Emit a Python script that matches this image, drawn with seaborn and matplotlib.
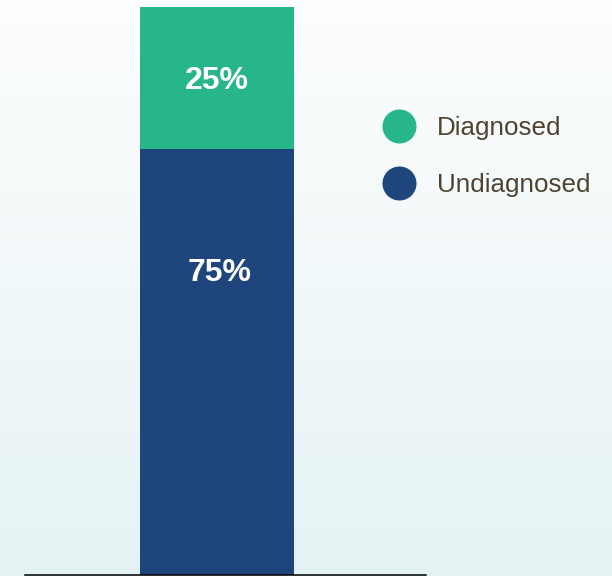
import numpy as np
import pandas as pd
import matplotlib
matplotlib.use("Agg")
import matplotlib.pyplot as plt
from matplotlib.lines import Line2D
from matplotlib.colors import LinearSegmentedColormap
import seaborn as sns

# Share of cases by diagnosis status (percent)
groups = ["Diagnosed", "Undiagnosed"]
shares = [25, 75]
labels = ["25%", "75%"]
colors = ["#27B68A", "#1F467C"]
text_color = "#4F4330"

sns.set_theme(style="white")
plt.rcParams["font.family"] = ["Liberation Sans", "DejaVu Sans"]

fig = plt.figure(figsize=(6.12, 5.76), dpi=100)

# Soft vertical background gradient
bg = fig.add_axes([0, 0, 1, 1], zorder=0)
grad = np.linspace(0, 1, 256).reshape(-1, 1)
cmap = LinearSegmentedColormap.from_list("bg", ["#FDFEFE", "#E5F2F4"])
bg.imshow(grad, aspect="auto", cmap=cmap, extent=[0, 1, 0, 1], origin="upper")
bg.set_axis_off()

ax = fig.add_axes([25 / 612, 1 / 576, 401 / 612, 575 / 576], zorder=1)
ax.patch.set_alpha(0)

total = sum(shares)
df_total = pd.DataFrame({"cat": [""], "value": [total]})
df_lower = pd.DataFrame({"cat": [""], "value": [shares[1]]})

# Stacked bar: full height in the top segment colour, lower segment drawn over it
sns.barplot(data=df_total, x="cat", y="value", color=colors[0], saturation=1,
            width=0.8, ax=ax, linewidth=0)
sns.barplot(data=df_lower, x="cat", y="value", color=colors[1], saturation=1,
            width=0.8, ax=ax, linewidth=0)

ax.set_xlim(-0.997, 1.086)
ax.set_ylim(0, 101.23)

# Value labels
ax.text(0, 87.0, labels[0], ha="center", va="center",
        color="white", fontsize=23, fontweight="bold")
ax.text(0.015, 53.2, labels[1], ha="center", va="center",
        color="white", fontsize=23, fontweight="bold")

for side in ["left", "right", "top"]:
    ax.spines[side].set_visible(False)
ax.spines["bottom"].set_color("#000000")
ax.spines["bottom"].set_linewidth(1.1)
ax.set_xticks([])
ax.set_yticks([])
ax.set_xlabel("")
ax.set_ylabel("")

handles = [Line2D([0], [0], marker="o", linestyle="", markersize=24.5,
                  markerfacecolor=c, markeredgewidth=0) for c in colors]
leg = fig.legend(handles, groups, loc="upper left", bbox_to_anchor=(373 / 612, 1 - 106 / 576),
                 frameon=False, fontsize=18.7, labelcolor=text_color,
                 handletextpad=0.87, labelspacing=1.27, borderaxespad=0,
                 handlelength=1.2)

fig.savefig("out.png", dpi=100)
